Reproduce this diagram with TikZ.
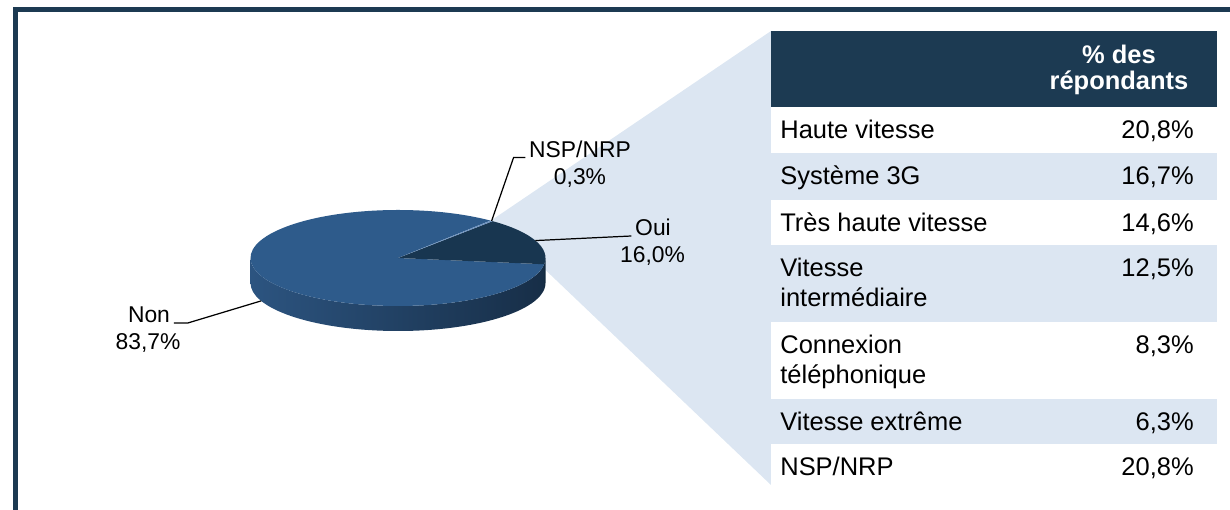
\documentclass[tikz,border=0pt]{standalone}
\usepackage{fontspec}
\setmainfont{Liberation Sans}

\definecolor{navy}{HTML}{1C3A52}
\definecolor{pale}{HTML}{DCE6F2}
\definecolor{nonblue}{HTML}{2E5B8B}
\definecolor{ouiblue}{HTML}{183650}
\definecolor{nspblue}{HTML}{6D92BF}
\definecolor{wallL}{HTML}{2C5480}
\definecolor{wallM}{HTML}{24466C}
\definecolor{wallR}{HTML}{172E47}
\definecolor{ouiwall}{HTML}{132A3F}

\begin{document}
\begin{tikzpicture}[x=0.02cm, y=0.02cm,
    pielbl/.style={font=\fontsize{13}{15}\selectfont, inner sep=2pt},
    cell/.style={font=\fontsize{14.5}{17}\selectfont, inner sep=0pt, align=left},
    leader/.style={line width=0.7pt}]
    \useasboundingbox (0,0) rectangle (1230,510);

    % frame
    \draw[navy, line width=3.1pt] (15.5,-5) -- (15.5,500.5) -- (1240,500.5);

    % pie centre (top face) and bottom face
    \coordinate (C) at (398,252);
    \coordinate (Cb) at (398,227);

    % zoom wedge behind the pie
    \fill[pale] ([shift={(51:147.5 and 48)}]C) -- (771,479) -- (771,25)
        -- (545.5,240) -- cycle;

    % side wall, front half
    \shade[left color=wallL, middle color=wallM, right color=wallR]
        ([shift={(180:147.5 and 48)}]C) arc[start angle=180, end angle=352.5, x radius=147.5, y radius=48]
        -- ++(0,-25) arc[start angle=352.5, end angle=180, x radius=147.5, y radius=48] -- cycle;
    \fill[ouiwall]
        ([shift={(352.5:147.5 and 48)}]C) arc[start angle=352.5, end angle=360, x radius=147.5, y radius=48]
        -- ++(0,-25) arc[start angle=360, end angle=352.5, x radius=147.5, y radius=48] -- cycle;

    % top faces
    \fill[nonblue] (C) -- ([shift={(51.2:147.5 and 48)}]C)
        arc[start angle=51.2, end angle=352.5, x radius=147.5, y radius=48] -- cycle;
    \fill[ouiblue] (C) -- ([shift={(-7.5:147.5 and 48)}]C)
        arc[start angle=-7.5, end angle=50.1, x radius=147.5, y radius=48] -- cycle;
    \fill[nspblue] (C) -- ([shift={(50.1:147.5 and 48)}]C)
        arc[start angle=50.1, end angle=51.2, x radius=147.5, y radius=48] -- cycle;

    % labels and leaders
    \coordinate (nsp) at ([shift={(50.6:147.5 and 48)}]C);
    \coordinate (oui) at ([shift={(21.3:147.5 and 48)}]C);
    \coordinate (non) at ([shift={(201.9:147.5 and 48)}]Cb);

    \node[pielbl, anchor=base] (nspname) at (580,352.5) {NSP/NRP};
    \node[pielbl, anchor=base] (nspval) at (580,325) {0,3\%};
    \node[pielbl, anchor=base] (ouiname) at (653,274) {Oui};
    \node[pielbl, anchor=base] (ouival) at (652.5,247) {16,0\%};
    \node[pielbl, anchor=base] (nonname) at (149,187) {Non};
    \node[pielbl, anchor=base] (nonval) at (148,160) {83,7\%};

    \draw[leader] (nsp) -- ++(22,63.5) -- (nspname.base west);
    \draw[leader] (oui) -- (ouiname.base west);
    \draw[leader] (non) -- ++(-73,-22) -- (nonname.base east);

    % table
    \fill[navy] (771,403) rectangle (1217,479);
    \fill[white] (771,20) rectangle (1217,403);
    \fill[pale] (771,310) rectangle (1217,357);
    \fill[pale] (771,188) rectangle (1217,265);
    \fill[pale] (771,66) rectangle (1217,111);

    % multi-line cells sit on their last baseline
    \node[cell, font=\fontsize{14.5}{15}\selectfont\bfseries, text=white, align=center, anchor=base]
        (head) at (1119,420) {\% des\\répondants};

    \node[cell, anchor=base west] (r1) at (780,371.5) {Haute vitesse};
    \node[cell, anchor=base east] (v1) at (1194,371.5) {20,8\%};
    \node[cell, anchor=base west] (r2) at (780,325.5) {Système 3G};
    \node[cell, anchor=base east] (v2) at (1194,325.5) {16,7\%};
    \node[cell, anchor=base west] (r3) at (780,278.5) {Très haute vitesse};
    \node[cell, anchor=base east] (v3) at (1194,278.5) {14,6\%};
    \node[cell, anchor=base west] (r4) at (780,203.5) {Vitesse\\intermédiaire};
    \node[cell, anchor=base east] (v4) at (1194,233.5) {12,5\%};
    \node[cell, anchor=base west] (r5) at (780,126.5) {Connexion\\téléphonique};
    \node[cell, anchor=base east] (v5) at (1194,156.5) {8,3\%};
    \node[cell, anchor=base west] (r6) at (780,79.5) {Vitesse extrême};
    \node[cell, anchor=base east] (v6) at (1194,79.5) {6,3\%};
    \node[cell, anchor=base west] (r7) at (780,34.5) {NSP/NRP};
    \node[cell, anchor=base east] (v7) at (1194,34.5) {20,8\%};
\end{tikzpicture}
\end{document}
